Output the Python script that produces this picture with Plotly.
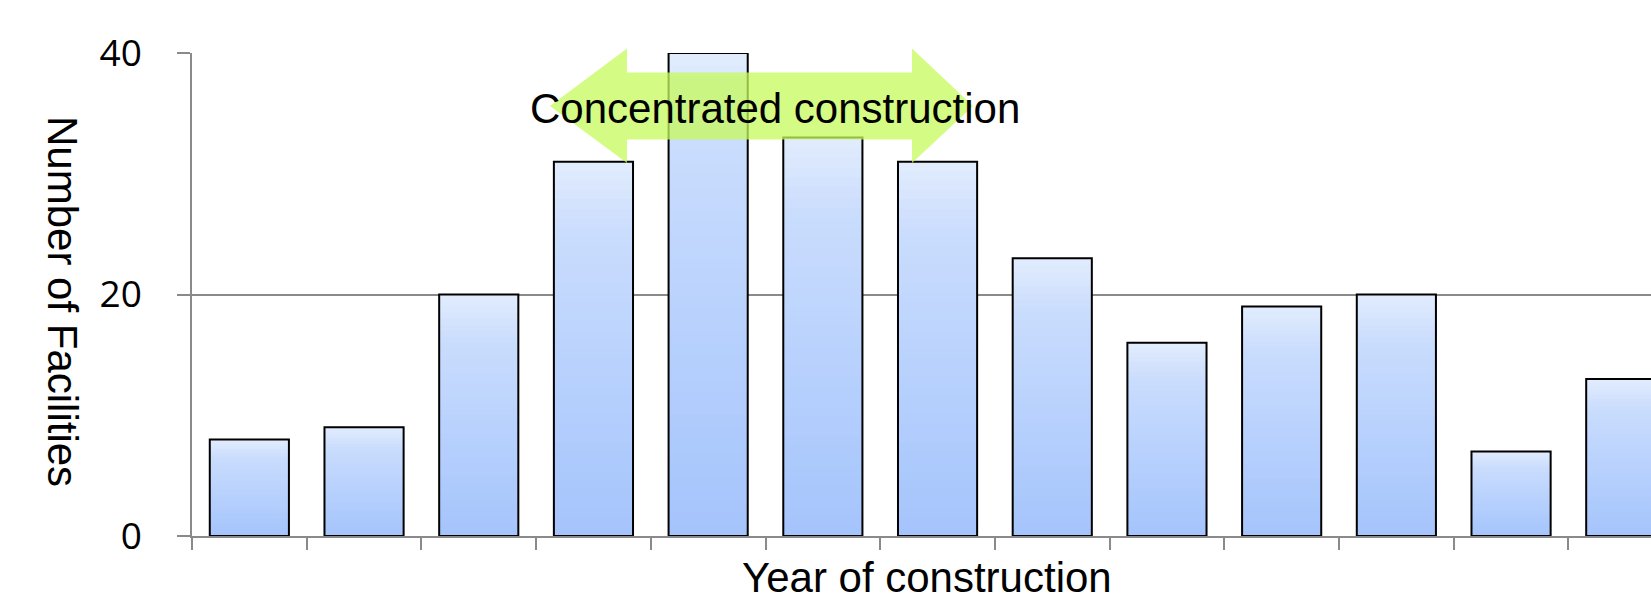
import plotly.graph_objects as go

# ---- data ----
categories = [f"P{i}" for i in range(1, 14)]
facilities = [8, 9, 20, 31, 40, 33, 31, 23, 16, 19, 20, 7, 13]
y_ticks = [0, 20, 40]
x_title = "Year of construction"
y_title = "Number of Facilities"
band_label = "Concentrated construction"

# ---- layout geometry ----
W, H = 1651, 605
ML, MR, MT, MB = 192, 0, 53, 69
PW, PH = W - ML - MR, H - MT - MB

def px(x):
    return (x - ML) / PW

def py(y):
    return (H - MB - y) / PH

# gradient stops (fraction from bottom -> rgb)
stops = [(0.0, (165, 196, 252)), (0.5, (187, 211, 253)), (0.8, (201, 220, 253)), (1.0, (226, 236, 253))]

def grad(f):
    for (f0, c0), (f1, c1) in zip(stops[:-1], stops[1:]):
        if f <= f1:
            t = (f - f0) / (f1 - f0)
            return "rgb(%d,%d,%d)" % tuple(round(a + (b - a) * t) for a, b in zip(c0, c1))
    return "rgb(%d,%d,%d)" % stops[-1][1]

BW = 0.69
N = 40
fig = go.Figure()
# nested bars from the base: tallest (lightest) first, shorter ones on top
for k in range(N - 1, -1, -1):
    fig.add_trace(go.Bar(
        x=categories,
        y=[v * (k + 1) / N for v in facilities],
        width=BW,
        marker=dict(color=grad((k + 0.5) / N), line=dict(width=0)),
        hoverinfo="skip",
        showlegend=False,
    ))
fig.add_trace(go.Bar(
    x=categories, y=facilities, width=BW,
    marker=dict(color="rgba(0,0,0,0)", line=dict(color="black", width=2)),
    showlegend=False,
))

GRID = "#8a8a8a"
fig.update_layout(
    width=W, height=H,
    margin=dict(l=ML, r=MR, t=MT, b=MB, pad=0),
    paper_bgcolor="white", plot_bgcolor="white",
    barmode="overlay",
    showlegend=False,
    xaxis=dict(
        type="category", range=[-0.5, 12.22],
        showticklabels=False, tickson="boundaries",
        ticks="outside", ticklen=12, tickwidth=1.5, tickcolor=GRID,
        showline=True, linecolor=GRID, linewidth=1.5,
        showgrid=False, zeroline=False,
    ),
    yaxis=dict(
        range=[0, 40], tickvals=y_ticks,
        ticks="outside", ticklen=13, tickwidth=1.5, tickcolor=GRID,
        showline=True, linecolor=GRID, linewidth=1.5,
        showgrid=True, gridcolor=GRID, gridwidth=1.5,
        zeroline=False,
        tickfont=dict(family="Open Sans", size=37, color="black"),
        ticklabelstandoff=28,
    ),
    font=dict(family="Liberation Sans, Arial", color="black"),
)

# double-headed arrow (pixel geometry -> paper)
xl_tip, xl_base, xr_base, xr_tip = 550, 627, 912, 973
y_head_top, y_shaft_top, y_mid, y_shaft_bot, y_head_bot = 48.5, 72.5, 106, 139.5, 163
pts = [
    (xl_tip, y_mid), (xl_base, y_head_top), (xl_base, y_shaft_top),
    (xr_base, y_shaft_top), (xr_base, y_head_top), (xr_tip, y_mid),
    (xr_base, y_head_bot), (xr_base, y_shaft_bot), (xl_base, y_shaft_bot),
    (xl_base, y_head_bot),
]
path = "M " + " L ".join(f"{px(x):.5f},{py(y):.5f}" for x, y in pts) + " Z"
fig.add_shape(type="path", path=path, xref="paper", yref="paper",
              fillcolor="rgba(198,250,90,0.75)", line=dict(width=0), layer="above")

fig.add_annotation(text=band_label, x=px(775), y=py(109), xref="paper", yref="paper",
                   showarrow=False, xanchor="center", yanchor="middle",
                   font=dict(family="Liberation Sans", size=42, color="black"))
fig.add_annotation(text=x_title, x=px(927), y=py(577), xref="paper", yref="paper",
                   showarrow=False, xanchor="center", yanchor="middle",
                   font=dict(family="Liberation Sans", size=42, color="black"))
fig.add_annotation(text=y_title, x=px(63), y=py(301), xref="paper", yref="paper",
                   showarrow=False, xanchor="center", yanchor="middle", textangle=90,
                   font=dict(family="Liberation Sans", size=42, color="black"))

fig.write_html("out.html", config={"displayModeBar": False},
               post_script="document.body.style.margin='0px';")
